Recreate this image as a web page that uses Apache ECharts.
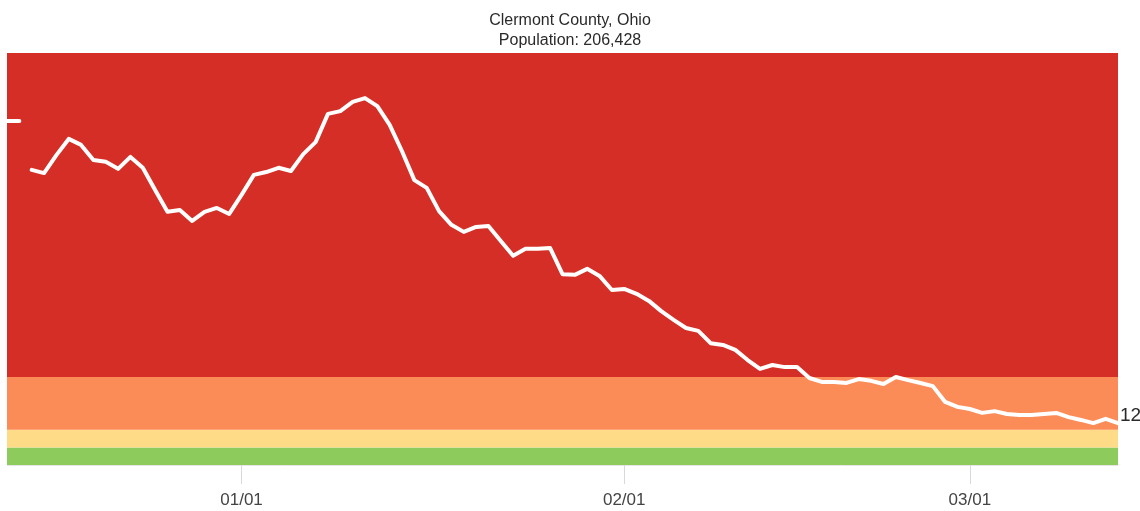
<!DOCTYPE html>
<html>
<head>
<meta charset="utf-8">
<script src="https://cdn.jsdelivr.net/npm/echarts@6/dist/echarts.min.js"></script>
<style>
html,body{margin:0;padding:0;background:#fff;}
#chart{width:1140px;height:511px;}
</style>
</head>
<body>
<div id="chart"></div>
<script>
var titleLines = ['Clermont County, Ohio', 'Population: 206,428'];

var dates = [
  '2020-12-13','2020-12-14','2020-12-14T12:00','2020-12-15','2020-12-16','2020-12-17','2020-12-18','2020-12-19',
  '2020-12-20','2020-12-21','2020-12-22','2020-12-23','2020-12-24','2020-12-25','2020-12-26','2020-12-27',
  '2020-12-28','2020-12-29','2020-12-30','2020-12-31','2021-01-01','2021-01-02','2021-01-03','2021-01-04',
  '2021-01-05','2021-01-06','2021-01-07','2021-01-08','2021-01-09','2021-01-10','2021-01-11','2021-01-12',
  '2021-01-13','2021-01-14','2021-01-15','2021-01-16','2021-01-17','2021-01-18','2021-01-19','2021-01-20',
  '2021-01-21','2021-01-22','2021-01-23','2021-01-24','2021-01-25','2021-01-26','2021-01-27','2021-01-28',
  '2021-01-29','2021-01-30','2021-01-31','2021-02-01','2021-02-02','2021-02-03','2021-02-04','2021-02-05',
  '2021-02-06','2021-02-07','2021-02-08','2021-02-09','2021-02-10','2021-02-11','2021-02-12','2021-02-13',
  '2021-02-14','2021-02-15','2021-02-16','2021-02-17','2021-02-18','2021-02-19','2021-02-20','2021-02-21',
  '2021-02-22','2021-02-23','2021-02-24','2021-02-25','2021-02-26','2021-02-27','2021-02-28','2021-03-01',
  '2021-03-02','2021-03-03','2021-03-04','2021-03-05','2021-03-06','2021-03-07','2021-03-08','2021-03-09',
  '2021-03-10','2021-03-11','2021-03-12','2021-03-13'
];

var casesPer100k = [
  97.7, 97.7, null, 83.8, 82.9, 88.0, 92.6, 90.9,
  86.6, 86.1, 84.1, 87.5, 84.4, 78.1, 71.9, 72.4,
  69.3, 71.9, 73.0, 71.3, 76.7, 82.4, 83.2, 84.4,
  83.5, 88.3, 91.7, 99.7, 100.5, 103.1, 104.2, 101.9,
  96.6, 89.1, 80.9, 78.7, 72.1, 68.2, 66.2, 67.6,
  67.9, 63.6, 59.4, 61.4, 61.4, 61.6, 54.2, 54.0,
  55.7, 53.7, 49.7, 50.0, 48.6, 46.6, 43.7, 41.2,
  38.9, 38.1, 34.6, 34.1, 32.7, 29.8, 27.3, 28.4,
  27.8, 27.8, 24.7, 23.6, 23.6, 23.3, 24.4, 23.9,
  23.0, 25.0, 24.1, 23.3, 22.4, 17.9, 16.5, 15.9,
  14.8, 15.3, 14.5, 14.2, 14.2, 14.5, 14.8, 13.6,
  12.8, 11.9, 13.1, 11.9
];

var bandEdges = [0, 5, 10, 25, 117];
var bandColors = ['#8dcc5c', '#fedb87', '#fb8b57', '#d52e26'];

var xMin = '2020-12-13';
var xMax = '2021-03-13';

var lineData = dates.map(function (d, i) { return [d, casesPer100k[i]]; });
var bands = [];
for (var i = 0; i < bandColors.length; i++) {
  bands.push([{ yAxis: bandEdges[i], itemStyle: { color: bandColors[i] } }, { yAxis: bandEdges[i + 1] }]);
}

var chart = echarts.init(document.getElementById('chart'), null, { renderer: 'canvas' });
chart.setOption({
  animation: false,
  backgroundColor: '#ffffff',
  title: {
    text: titleLines.join('\n'),
    left: 'center',
    top: 6,
    textStyle: { fontFamily: 'Liberation Sans, Arial, sans-serif', fontSize: 16, fontWeight: 'normal', color: '#2a2a2a', lineHeight: 20 }
  },
  grid: { left: 7, right: 22, top: 53, bottom: 46 },
  xAxis: {
    type: 'time',
    min: xMin,
    max: xMax,
    minInterval: 28 * 24 * 3600 * 1000,
    splitLine: { show: false },
    axisLine: { show: true, lineStyle: { color: '#e6e6e6', width: 1 } },
    axisTick: { show: true, length: 19, lineStyle: { color: '#d9d9d9' } },
    axisLabel: {
      formatter: '{MM}/{dd}',
      showMinLabel: false,
      showMaxLabel: false,
      margin: 27,
      color: '#444',
      fontSize: 17,
      fontFamily: 'Liberation Sans, Arial, sans-serif'
    }
  },
  yAxis: {
    type: 'value',
    min: bandEdges[0],
    max: bandEdges[bandEdges.length - 1],
    show: false,
    splitLine: { show: false }
  },
  series: [
    {
      type: 'line',
      data: [],
      z: 1,
      silent: true,
      markArea: { silent: true, data: bands }
    },
    {
      type: 'line',
      data: lineData,
      z: 5,
      showSymbol: false,
      connectNulls: false,
      lineStyle: { color: '#ffffff', width: 4, join: 'round', cap: 'round' },
      endLabel: {
        show: true,
        formatter: function (p) { return Math.round(p.value[1]); },
        color: '#2a2a2a',
        fontSize: 19,
        fontFamily: 'Liberation Sans, Arial, sans-serif',
        distance: 2,
        offset: [0, -7]
      }
    }
  ]
});
</script>
</body>
</html>
